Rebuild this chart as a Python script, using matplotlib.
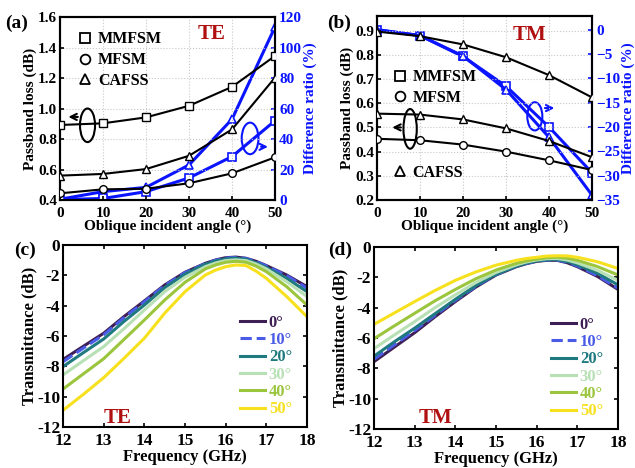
import numpy as np
import matplotlib.pyplot as plt
from matplotlib.patches import Ellipse

plt.rcParams['font.family'] = ['Liberation Serif', 'DejaVu Serif']
plt.rcParams['font.weight'] = 'bold'
plt.rcParams['axes.labelweight'] = 'bold'
plt.rcParams['font.size'] = 11
plt.rcParams['mathtext.default'] = 'regular'

# ---- (a)/(b) passband loss vs angle
angles = [0, 10, 20, 30, 40, 50]

te_mmfsm = [0.892, 0.903, 0.942, 1.018, 1.142, 1.345]
te_mfsm = [0.444, 0.470, 0.474, 0.510, 0.575, 0.680]
te_cafss = [0.560, 0.571, 0.603, 0.690, 0.863, 1.203]
te_ratio_a = [0.5, 5.5, 8.3, 23.0, 53.0, 113.5]
te_ratio_b = [0.3, 1.0, 5.5, 14.5, 28.5, 52.0]

tm_mmfsm = [0.896, 0.877, 0.843, 0.790, 0.716, 0.624]
tm_mfsm = [0.453, 0.447, 0.429, 0.400, 0.364, 0.324]
tm_cafss = [0.557, 0.553, 0.533, 0.496, 0.444, 0.377]
tm_ratio_a = [0.0, -1.2, -5.5, -11.6, -20.0, -29.4]
tm_ratio_b = [0.0, -1.2, -5.4, -12.3, -22.1, -34.0]

# ---- (c)/(d) transmittance spectra
freq = [12, 12.5, 13, 13.5, 14, 14.5, 15, 15.5, 15.75, 16, 16.25, 16.5, 16.75, 17, 17.5, 18]
angle_labels = ['0°', '10°', '20°', '30°', '40°', '50°']
te_trans = [
    [-7.55, -6.68, -5.82, -4.72, -3.69, -2.64, -1.80, -1.21, -0.99, -0.84, -0.80, -0.88, -1.08, -1.36, -1.98, -2.75],
    [-7.70, -6.80, -5.92, -4.80, -3.75, -2.68, -1.83, -1.23, -1.01, -0.86, -0.82, -0.89, -1.10, -1.38, -2.02, -2.85],
    [-8.02, -7.10, -6.20, -5.04, -3.96, -2.81, -1.93, -1.27, -1.06, -0.92, -0.87, -0.95, -1.18, -1.49, -2.20, -3.08],
    [-8.57, -7.63, -6.70, -5.52, -4.29, -3.08, -2.13, -1.43, -1.19, -1.03, -0.98, -1.03, -1.26, -1.58, -2.42, -3.40],
    [-9.50, -8.50, -7.50, -6.23, -4.95, -3.63, -2.46, -1.58, -1.32, -1.14, -1.08, -1.14, -1.40, -1.76, -2.75, -3.96],
    [-10.90, -9.85, -8.75, -7.47, -6.15, -4.50, -3.08, -1.98, -1.66, -1.43, -1.32, -1.36, -1.73, -2.20, -3.40, -4.73],
]
tm_trans = [
    [-7.56, -6.60, -5.65, -4.60, -3.60, -2.65, -1.85, -1.30, -1.10, -0.95, -0.88, -0.88, -1.04, -1.30, -1.95, -2.80],
    [-7.40, -6.45, -5.50, -4.50, -3.52, -2.60, -1.82, -1.28, -1.08, -0.93, -0.86, -0.86, -1.01, -1.25, -1.90, -2.72],
    [-7.20, -6.25, -5.35, -4.40, -3.45, -2.55, -1.80, -1.27, -1.06, -0.92, -0.84, -0.83, -0.96, -1.17, -1.75, -2.50],
    [-6.70, -5.80, -4.92, -4.00, -3.15, -2.35, -1.68, -1.18, -0.99, -0.86, -0.77, -0.76, -0.86, -1.05, -1.55, -2.20],
    [-6.05, -5.20, -4.37, -3.55, -2.80, -2.10, -1.52, -1.08, -0.92, -0.80, -0.70, -0.68, -0.74, -0.88, -1.30, -1.85],
    [-5.10, -4.35, -3.60, -2.87, -2.20, -1.65, -1.20, -0.88, -0.76, -0.68, -0.60, -0.58, -0.59, -0.68, -0.98, -1.42],
]
curve_colors = ['#3e1f55', '#4a5be8', '#1f7a80', '#b8e0b5', '#9bc53d', '#f7e11e']
curve_styles = ['-', '--', '-', '-', '-', '-']

BLUE = '#0a14ff'
RED = '#b01010'

fig = plt.figure(figsize=(6.35, 4.68), dpi=100)
ax_a = fig.add_axes([0.0945, 0.5726, 0.3386, 0.391])
ax_b = fig.add_axes([0.5937, 0.5726, 0.3386, 0.393])
ax_c = fig.add_axes([0.0992, 0.0876, 0.3843, 0.389])
ax_d = fig.add_axes([0.589, 0.0833, 0.3843, 0.389])


def style_top(ax, axr):
    ax.grid(True, color='#c8c8c8', linestyle=':', linewidth=0.8)
    ax.tick_params(direction='in', width=1.2, length=3, labelsize=11, pad=2)
    ax.tick_params(axis='x', pad=5)
    axr.tick_params(direction='in', width=1.2, length=3, labelsize=11, colors=BLUE, pad=3)
    for s in ax.spines.values():
        s.set_linewidth(1.5)
    for s in axr.spines.values():
        s.set_linewidth(1.5)
    axr.spines['right'].set_color(BLUE)
    ax.set_xlim(0, 50)
    ax.set_xticks(angles)
    ax.set_xlabel('Oblique incident angle (°)', labelpad=0)
    ax.set_ylabel('Passband loss (dB)', labelpad=1)
    axr.set_ylabel('Difference ratio (%)', color=BLUE, labelpad=1)
    for lab in ax.get_xticklabels() + ax.get_yticklabels() + axr.get_yticklabels():
        lab.set_fontweight('bold')


def black_line(ax, y, m):
    ax.plot(angles, y, color='black', lw=1.5, marker=m, ms=5.5,
            mfc='white', mec='black', mew=1.0, zorder=3)


def blue_line(ax, y, m):
    ax.plot(angles, y, color=BLUE, lw=2.2, marker=m, ms=5.5,
            mfc='white', mec=BLUE, mew=1.2, zorder=4)


# (a) TE
axr_a = ax_a.twinx()
black_line(ax_a, te_mmfsm, 's')
black_line(ax_a, te_mfsm, 'o')
black_line(ax_a, te_cafss, '^')
blue_line(axr_a, te_ratio_a, '^')
blue_line(axr_a, te_ratio_b, 's')
ax_a.set_ylim(0.4, 1.6)
ax_a.set_yticks([0.4, 0.6, 0.8, 1.0, 1.2, 1.4, 1.6])
ax_a.set_yticklabels(['0.4', '0.6', '0.8', '1.0', '1.2', '1.4', '1.6'])
axr_a.set_ylim(0, 120)
axr_a.set_yticks([0, 20, 40, 60, 80, 100, 120])
style_top(ax_a, axr_a)
ax_a.set_zorder(axr_a.get_zorder() + 1)
ax_a.patch.set_visible(False)

h = [plt.Line2D([], [], ls='none', marker=m, ms=7, mfc='white', mec='black', mew=1.3)
     for m in ['s', 'o', '^']]
ax_a.legend(h, ['MMFSM', 'MFSM', 'CAFSS'], loc='upper left', bbox_to_anchor=(0.02, 1.0),
            frameon=False, handlelength=0.8, handletextpad=0.4, labelspacing=0.3,
            prop={'weight': 'bold', 'size': 11.5})
ax_a.text(35.3, 1.49, 'TE', color=RED, fontsize=15, fontweight='bold', ha='center', va='center')
ax_a.add_patch(Ellipse((6.4, 0.89), 3.5, 0.22, fill=False, ec='black', lw=1.5, zorder=5))
ax_a.annotate('', xy=(1.3, 0.945), xytext=(4.8, 0.945),
              arrowprops=dict(arrowstyle='->', color='black', lw=1.5))
axr_a.add_patch(Ellipse((44.2, 40.4), 3.9, 20.7, fill=False, ec=BLUE, lw=1.5, zorder=5))
axr_a.annotate('', xy=(49.0, 34.9), xytext=(46.1, 34.9),
               arrowprops=dict(arrowstyle='->', color=BLUE, lw=1.5))
fig.text(0.008, 0.94, '(a)', fontsize=14, fontweight='bold')

# (b) TM
axr_b = ax_b.twinx()
black_line(ax_b, tm_mmfsm, '^')
black_line(ax_b, tm_mfsm, 'o')
black_line(ax_b, tm_cafss, '^')
blue_line(axr_b, tm_ratio_a, 's')
blue_line(axr_b, tm_ratio_b, '^')
ax_b.set_ylim(0.2, 0.96)
ax_b.set_yticks([0.2, 0.3, 0.4, 0.5, 0.6, 0.7, 0.8, 0.9])
axr_b.set_ylim(-35, 2.8)
axr_b.set_yticks([0, -5, -10, -15, -20, -25, -30, -35])
style_top(ax_b, axr_b)
ax_b.set_zorder(axr_b.get_zorder() + 1)
ax_b.patch.set_visible(False)

leg1 = ax_b.legend(h[:2], ['MMFSM', 'MFSM'], loc='upper left', bbox_to_anchor=(0.01, 0.79),
                   frameon=False, handlelength=0.8, handletextpad=0.4, labelspacing=0.3,
                   prop={'weight': 'bold', 'size': 11.5})
ax_b.add_artist(leg1)
ax_b.legend(h[2:], ['CAFSS'], loc='upper left', bbox_to_anchor=(0.01, 0.27),
            frameon=False, handlelength=0.8, handletextpad=0.4,
            prop={'weight': 'bold', 'size': 11.5})
ax_b.text(35.5, 0.88, 'TM', color=RED, fontsize=15, fontweight='bold', ha='center', va='center')
ax_b.add_patch(Ellipse((7.7, 0.494), 3.1, 0.164, fill=False, ec='black', lw=1.5, zorder=5))
ax_b.annotate('', xy=(2.9, 0.5), xytext=(6.2, 0.5),
              arrowprops=dict(arrowstyle='->', color='black', lw=1.5))
axr_b.add_patch(Ellipse((36.7, -17.8), 3.5, 5.8, fill=False, ec=BLUE, lw=1.5, zorder=5))
axr_b.annotate('', xy=(41.9, -16.1), xytext=(38.4, -16.1),
               arrowprops=dict(arrowstyle='->', color=BLUE, lw=1.5))
fig.text(0.515, 0.94, '(b)', fontsize=14, fontweight='bold')


# (c)/(d) spectra
def spectra(ax, data, tag, tag_xy):
    for y, c, ls, lab in zip(data, curve_colors, curve_styles, angle_labels):
        ax.plot(freq, y, color=c, ls=ls, lw=2.2, label=lab)
    ax.set_xlim(12, 18)
    ax.set_ylim(-12, 0)
    ax.set_xticks([12, 13, 14, 15, 16, 17, 18])
    ax.set_yticks([0, -2, -4, -6, -8, -10, -12])
    ax.set_yticklabels(['0', '-2', '-4', '-6', '-8', '-10', '-12'])
    ax.tick_params(direction='in', width=1.2, length=3, labelsize=12.5, pad=2,
                   top=True, right=True)
    ax.tick_params(axis='x', pad=4)
    for s in ax.spines.values():
        s.set_linewidth(1.5)
    for lab in ax.get_xticklabels() + ax.get_yticklabels():
        lab.set_fontweight('bold')
    ax.set_xlabel('Frequency (GHz)', fontsize=12, labelpad=0)
    ax.set_ylabel('Transmittance (dB)', fontsize=12, labelpad=0)
    leg = ax.legend(loc='lower right', bbox_to_anchor=(1.0, -0.03), frameon=False,
                    handlelength=1.5, handletextpad=0.2, labelspacing=0.08,
                    prop={'weight': 'bold', 'size': 12})
    for t, c in zip(leg.get_texts(), curve_colors):
        t.set_color(c)
    ax.text(tag_xy[0], tag_xy[1], tag, color=RED, fontsize=15, fontweight='bold',
            ha='center', va='center')


spectra(ax_c, te_trans, 'TE', (13.35, -11.4))
spectra(ax_d, tm_trans, 'TM', (13.5, -11.3))
fig.text(0.022, 0.455, '(c)', fontsize=14, fontweight='bold')
fig.text(0.517, 0.455, '(d)', fontsize=14, fontweight='bold')

fig.savefig('out.png', dpi=100)
